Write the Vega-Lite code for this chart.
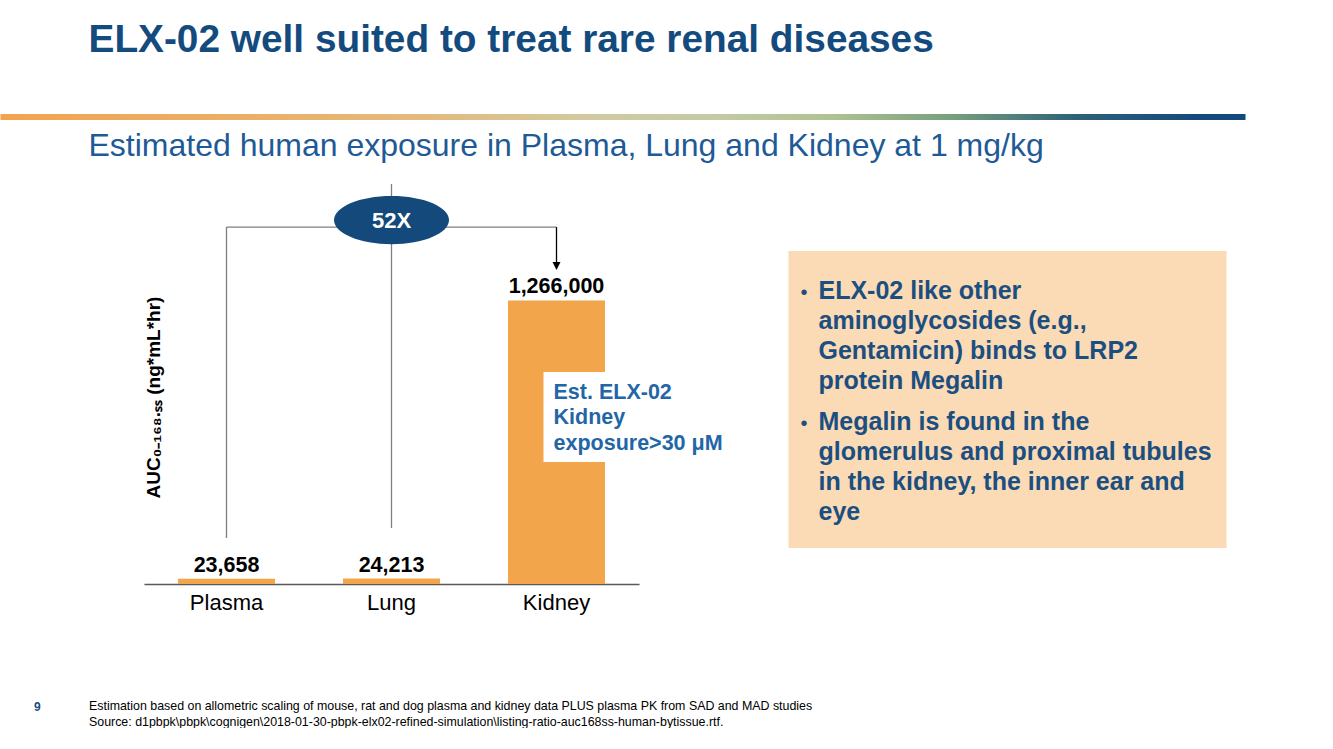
{
  "$schema": "https://vega.github.io/schema/vega-lite/v6.json",
  "background": "white",
  "padding": {"left": 0, "top": 21, "right": 0, "bottom": 0},
  "autosize": {"type": "pad"},
  "config": {
    "font": "Liberation Sans",
    "view": {"stroke": null}
  },
  "datasets": {
    "tissues": [
      {"tissue": "Plasma", "auc": 23658},
      {"tissue": "Lung", "auc": 24213},
      {"tissue": "Kidney", "auc": 1266000}
    ],
    "stems": [
      {"tissue": "Plasma", "low": 205000, "high": 1594000},
      {"tissue": "Lung", "low": 250000, "high": 1786000}
    ],
    "bracket": [
      {"from": "Plasma", "to": "Kidney", "level": 1594000, "tip": 1437700, "head": 1419900}
    ],
    "ratio": [
      {"tissue": "Lung", "ratio": 52, "label": "52X", "level": 1625000}
    ],
    "note": [
      {"tissue": "Kidney", "level": 827400, "text": "Est. ELX-02\nKidney\nexposure>30 μM"}
    ],
    "bullets": [
      {"item": 1, "text": "ELX-02 like other\naminoglycosides (e.g.,\nGentamicin) binds to LRP2\nprotein Megalin"},
      {"item": 2, "text": "Megalin is found in the\nglomerulus and proximal tubules\nin the kidney, the inner ear and\neye"}
    ]
  },
  "title": {
    "text": "ELX-02 well suited to treat rare renal diseases",
    "subtitle": "Estimated human exposure in Plasma, Lung and Kidney at 1 mg/kg",
    "anchor": "start",
    "frame": "bounds",
    "dx": 88,
    "offset": -48,
    "font": "Liberation Sans",
    "fontSize": 38.8,
    "fontWeight": "bold",
    "color": "#144B7E",
    "subtitleFont": "Liberation Sans",
    "subtitleFontSize": 32,
    "subtitleColor": "#1E5A96",
    "subtitlePadding": 71.2
  },
  "bounds": "flush",
  "spacing": 149.5,
  "resolve": {"scale": {"fill": "independent"}, "legend": {"fill": "independent"}},
  "hconcat": [
    {
      "width": 495,
      "height": 333,
      "encoding": {
        "x": {
          "field": "tissue",
          "type": "nominal",
          "sort": null,
          "scale": {"domain": ["Plasma", "Lung", "Kidney"], "paddingInner": 0.412, "paddingOuter": 0.206},
          "axis": {
            "title": [
              "Estimation based on allometric scaling of mouse, rat and dog plasma and kidney data PLUS plasma PK from SAD and MAD studies",
              "Source: d1pbpk\\pbpk\\cognigen\\2018-01-30-pbpk-elx02-refined-simulation\\listing-ratio-auc168ss-human-bytissue.rtf."
            ],
            "titleX": -55.5,
            "titleY": 125,
            "titleAlign": "left",
            "titleAnchor": "start",
            "titleBaseline": "alphabetic",
            "titleFontSize": 12.4,
            "titleFontWeight": "normal",
            "titleColor": "#000000",
            "titleLineHeight": 16,
            "labelAngle": 0,
            "labelFontSize": 22,
            "labelColor": "#000000",
            "labelPadding": 8,
            "ticks": false,
            "domainColor": "#595959",
            "domainWidth": 1.3
          }
        }
      },
      "layer": [
        {
          "data": {"name": "tissues"},
          "mark": {"type": "bar", "color": "#F2A54A"},
          "encoding": {
            "y": {
              "field": "auc",
              "type": "quantitative",
              "scale": {"domain": [0, 1487000], "nice": false},
              "axis": {
                "title": "AUC₀₋₁₆₈.ₛₛ (ng*mL*hr)",
                "domain": false,
                "ticks": false,
                "labels": false,
                "grid": false,
                "titleFontSize": 19,
                "titleFontWeight": "bold",
                "titleColor": "#000000",
                "titleAngle": 270,
                "titleAlign": "center",
                "titleBaseline": "middle",
                "titleX": 9,
                "titleY": 146
              }
            }
          }
        },
        {
          "data": {"name": "tissues"},
          "mark": {"type": "text", "dy": -7, "baseline": "alphabetic", "fontSize": 21.5, "fontWeight": "bold", "color": "#000000"},
          "encoding": {
            "y": {"field": "auc", "type": "quantitative"},
            "text": {"field": "auc", "type": "quantitative", "format": ","}
          }
        },
        {
          "data": {"name": "stems"},
          "mark": {"type": "rule", "color": "#7F7F7F", "strokeWidth": 1.3},
          "encoding": {
            "y": {"field": "low", "type": "quantitative"},
            "y2": {"field": "high"}
          }
        },
        {
          "data": {"name": "bracket"},
          "mark": {"type": "rule", "color": "#7F7F7F", "strokeWidth": 1.3},
          "encoding": {
            "x": {"field": "from", "type": "nominal"},
            "x2": {"field": "to"},
            "y": {"field": "level", "type": "quantitative"}
          }
        },
        {
          "data": {"name": "bracket"},
          "mark": {"type": "rule", "color": "#000000", "strokeWidth": 1.3},
          "encoding": {
            "x": {"field": "to", "type": "nominal"},
            "y": {"field": "level", "type": "quantitative"},
            "y2": {"field": "tip"}
          }
        },
        {
          "data": {"name": "bracket"},
          "mark": {"type": "point", "shape": "M-1,-1L1,-1L0,1Z", "size": 64, "filled": true, "color": "#000000", "opacity": 1, "strokeWidth": 0},
          "encoding": {
            "x": {"field": "to", "type": "nominal"},
            "y": {"field": "head", "type": "quantitative"}
          }
        },
        {
          "data": {"name": "ratio"},
          "mark": {"type": "point", "shape": "M-1,0A1,0.42,0,1,0,1,0A1,0.42,0,1,0,-1,0Z", "size": 13225, "filled": true, "opacity": 1, "strokeWidth": 0},
          "encoding": {
            "y": {"field": "level", "type": "quantitative"},
            "fill": {
              "field": "ratio",
              "type": "quantitative",
              "scale": {
                "domain": [1, 14.1, 21.4, 27.2, 33.8, 37.9, 42.0, 45.2, 47.7, 52],
                "range": ["#F2A352", "#E8B36E", "#DEBF8C", "#CCCFAE", "#B7C69C", "#9EB87C", "#5F8577", "#2F5E79", "#14497C", "#14497C"]
              },
              "legend": {
                "orient": "none",
                "legendX": -143.5,
                "legendY": -137,
                "direction": "horizontal",
                "title": null,
                "gradientLength": 1245,
                "gradientThickness": 6,
                "gradientStrokeWidth": 0,
                "labelExpr": "''",
                "labelOpacity": 0,
                "labelFontSize": 1,
                "padding": 0
              }
            }
          }
        },
        {
          "data": {"name": "ratio"},
          "mark": {"type": "text", "baseline": "middle", "fontSize": 22, "fontWeight": "bold", "color": "#FFFFFF", "dy": 1},
          "encoding": {
            "y": {"field": "level", "type": "quantitative"},
            "text": {"field": "label"}
          }
        },
        {
          "data": {"name": "note"},
          "mark": {"type": "point", "shape": "M-0.13,-0.267L1.79,-0.267L1.79,0.633L-0.13,0.633Z", "size": 40000, "filled": true, "color": "#FFFFFF", "opacity": 1, "strokeWidth": 0},
          "encoding": {
            "y": {"field": "level", "type": "quantitative"}
          }
        },
        {
          "data": {"name": "note"},
          "mark": {"type": "text", "align": "left", "baseline": "alphabetic", "dx": -3, "fontSize": 21.5, "fontWeight": "bold", "color": "#2266A8", "lineBreak": "\n", "lineHeight": 25.5},
          "encoding": {
            "y": {"field": "level", "type": "quantitative"},
            "text": {"field": "text"}
          }
        }
      ]
    },
    {
      "width": 438,
      "height": 297,
      "view": {"fill": "#FBDAB6", "stroke": null},
      "data": {"name": "bullets"},
      "encoding": {
        "y": {
          "field": "item",
          "type": "ordinal",
          "scale": {"type": "point", "domain": [1, 2], "padding": 0.6336, "align": 0.2873},
          "axis": {
            "title": "9",
            "labels": false,
            "ticks": false,
            "domain": false,
            "grid": false,
            "titleAngle": 0,
            "titleAlign": "left",
            "titleBaseline": "alphabetic",
            "titleX": -755,
            "titleY": 459,
            "titleFontSize": 12,
            "titleFontWeight": "bold",
            "titleColor": "#1B4F80"
          }
        }
      },
      "layer": [
        {
          "mark": {"type": "text", "align": "left", "baseline": "alphabetic", "dx": -207, "fontSize": 20, "color": "#1B4F80", "text": "•"}
        },
        {
          "mark": {"type": "text", "align": "left", "baseline": "alphabetic", "dx": -189, "fontSize": 25, "fontWeight": "bold", "color": "#1B4F80", "lineBreak": "\n", "lineHeight": 30},
          "encoding": {"text": {"field": "text"}}
        }
      ]
    }
  ]
}
